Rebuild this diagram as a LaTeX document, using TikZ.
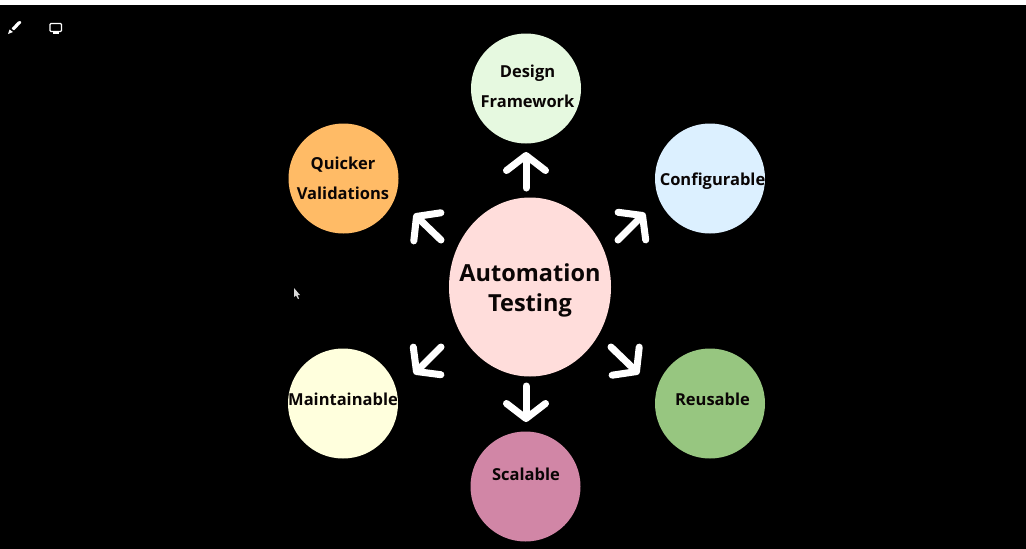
\documentclass[tikz,border=0pt]{standalone}
\usepackage{fontspec}
\setmainfont{Open Sans}
\usetikzlibrary{arrows.meta,shapes.geometric}
\definecolor{inkblack}{HTML}{0A0505}
\begin{document}
\begin{tikzpicture}
[x=1pt,y=-1pt,
  ringdecorate/.style={shape=circle,minimum size=110pt,inner sep=0pt,fill=#1},%
  captiondecorate/.style={align=center,inner sep=0pt,text=inkblack,font=\fontsize{16.5}{30}\selectfont\bfseries},%
  pointerdecorate/.style={white,line width=7pt,line cap=round,
    -{Straight Barb[round,length=15pt,width=39pt]}}]
\useasboundingbox (0,0) rectangle (1026,549);
\fill[black] (0,0) rectangle (1026,549);
\fill[white] (0,0) rectangle (1026,4.5);
%% toolbar and mouse pointer
\fill[white,rounded corners=0.6pt] (20.5,21) -- (21.5,22.5) -- (14,30.5) -- (11.5,28.5) -- (18,21.5) -- cycle;
\fill[white] (8,34) -- (9.5,29.5) -- (13,32) -- cycle;
\draw[white,line width=1.3pt,rounded corners=1pt] (50,23.5) rectangle (61.5,31.5);
\draw[white,line width=1.3pt] (53,33) -- (58.5,33);
\fill[white!85!black] (294,288) -- (294,297) -- (296,295.5) -- (298,299) -- (299,298.5) -- (297.5,295) -- (300,295) -- cycle;
%% nodes or vertices
\node (central) at (530,287) [shape=ellipse,minimum width=162pt,minimum height=179pt,inner sep=0pt,fill={rgb,255:red,255;green,221;blue,219}] {};
\node (centraltext) at (530,290) [align=center,inner sep=0pt,text=inkblack,font=\fontsize{23.5}{30}\selectfont\bfseries] {Automation\\Testing};
\foreach \nodename/\x/\y/\hue/\tx/\ty/\caption in {
  design/526/88.5/E6F9E0/527.5/86.5/{Design\\Framework},
  configurable/710/178.5/DCF0FF/712.5/181/Configurable,
  reusable/710/403.5/97C680/712.5/399.5/Reusable,
  scalable/525.5/486.5/D186A6/526/474.5/Scalable,
  maintainable/343/403.5/FFFFDD/343/399.5/Maintainable,
  quicker/343.5/178.5/FFBB66/343/178.5/{Quicker\\Validations}}
{
  \definecolor{ringhue}{HTML}{\hue}
  \node (\nodename) at (\x,\y) [ringdecorate=ringhue] {};
  \node (\nodename text) at (\tx,\ty) [captiondecorate] {\caption};
}
%% arrow ends
\foreach \nodename/\ax/\ay/\bx/\by in {
  design/526/188/526/152,
  configurable/618/240/645/213,
  reusable/611/347/639/374,
  scalable/526/386/526/422,
  maintainable/441/347/414/374,
  quicker/441/240/414/214}
{
  \coordinate (\nodename tail) at (\ax,\ay);
  \coordinate (\nodename tip) at (\bx,\by);
}
%% edges or lines
\foreach \nodename in {design,configurable,reusable,scalable,maintainable,quicker} {
  \draw[pointerdecorate] (\nodename tail) -- (\nodename tip);
}
\end{tikzpicture}
\end{document}
